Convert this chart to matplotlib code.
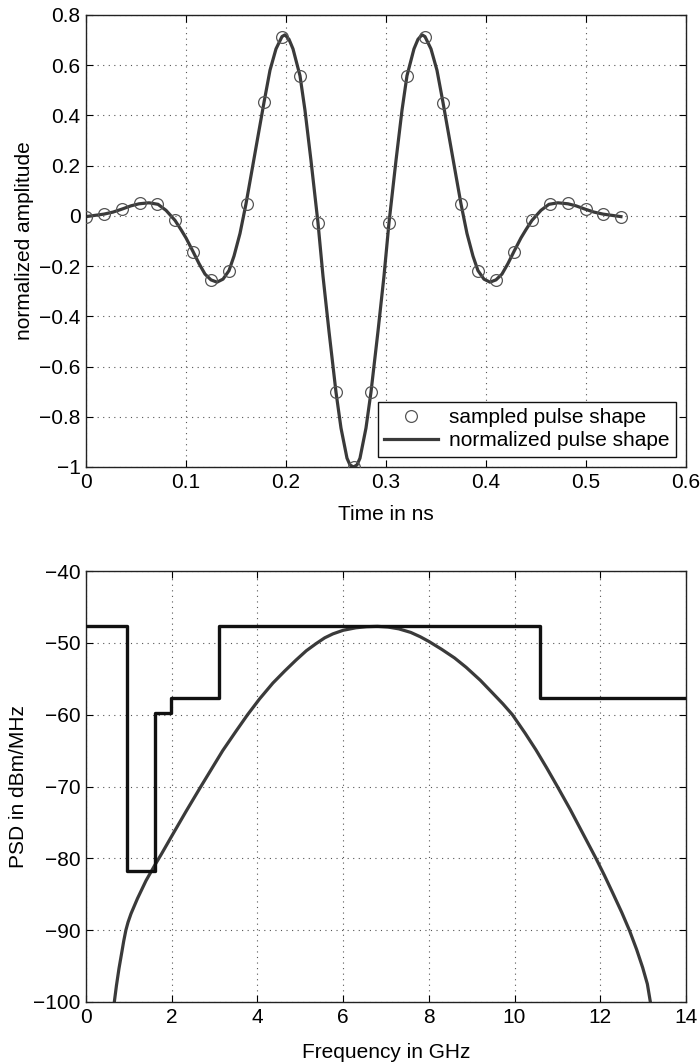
import numpy as np
import matplotlib
matplotlib.use("Agg")
import matplotlib.pyplot as plt
from matplotlib.ticker import FuncFormatter

# ---------------- data ----------------
# sampled pulse (circles)
t_samp = [0, 0.018, 0.036, 0.054, 0.071, 0.089, 0.107, 0.125, 0.143, 0.161,
          0.178, 0.196, 0.214, 0.232, 0.250, 0.268, 0.285, 0.303, 0.321, 0.339,
          0.357, 0.375, 0.392, 0.410, 0.428, 0.446, 0.464, 0.482, 0.500, 0.517,
          0.535]
a_samp = [-0.003, 0.007, 0.027, 0.050, 0.048, -0.017, -0.142, -0.255, -0.218, 0.049,
          0.453, 0.712, 0.558, -0.028, -0.702, -1.000, -0.700, -0.028, 0.558, 0.714,
          0.451, 0.049, -0.218, -0.255, -0.142, -0.017, 0.048, 0.050, 0.027, 0.007,
          -0.003]

# normalized pulse shape (solid line)
t_pulse = [0, 0.009, 0.018, 0.027, 0.036, 0.045, 0.053, 0.063, 0.072, 0.080,
           0.089, 0.095, 0.100, 0.107, 0.113, 0.119, 0.125, 0.131, 0.137, 0.143,
           0.148, 0.154, 0.160, 0.165, 0.171, 0.178, 0.184, 0.190, 0.196, 0.199,
           0.203, 0.207, 0.214, 0.219, 0.225, 0.232, 0.237, 0.243, 0.250, 0.255,
           0.261, 0.264, 0.2675, 0.271,
           0.274, 0.280, 0.285, 0.292, 0.298, 0.303, 0.310, 0.316, 0.321, 0.328,
           0.332, 0.336, 0.339, 0.345, 0.351, 0.357, 0.364, 0.370, 0.375, 0.381,
           0.387, 0.392, 0.398, 0.404, 0.410, 0.416, 0.422, 0.428, 0.435, 0.440,
           0.446, 0.455, 0.463, 0.472, 0.482, 0.490, 0.499, 0.508, 0.517, 0.526,
           0.535]
a_pulse = [-0.003, 0.002, 0.007, 0.015, 0.027, 0.040, 0.048, 0.052, 0.046, 0.022,
           -0.018, -0.055, -0.088, -0.142, -0.190, -0.232, -0.255, -0.264, -0.252, -0.218,
           -0.160, -0.070, 0.048, 0.160, 0.295, 0.452, 0.580, 0.665, 0.714, 0.721,
           0.703, 0.665, 0.558, 0.420, 0.220, -0.028, -0.240, -0.460, -0.702, -0.845,
           -0.965, -0.992, -1.000, -0.992,
           -0.965, -0.845, -0.702, -0.460, -0.240, -0.028, 0.220, 0.420, 0.558, 0.665,
           0.703, 0.721, 0.714, 0.665, 0.580, 0.452, 0.295, 0.160, 0.048, -0.070,
           -0.160, -0.218, -0.252, -0.264, -0.255, -0.232, -0.190, -0.142, -0.088, -0.055,
           -0.018, 0.022, 0.046, 0.052, 0.048, 0.040, 0.027, 0.015, 0.007, 0.002,
           -0.003]

# spectral mask (step line)
f_mask = [0, 0.96, 0.96, 1.61, 1.61, 1.99, 1.99, 3.1, 3.1, 10.6, 10.6, 14]
p_mask = [-47.7, -47.7, -81.7, -81.7, -59.7, -59.7, -57.7, -57.7, -47.7, -47.7, -57.7, -57.7]

# PSD of the pulse
f_psd = [0.66, 0.71, 0.77, 0.84, 0.88, 0.93, 0.98, 1.05, 1.20, 1.40, 1.61, 1.76,
         2.0, 2.34, 2.68, 3.19, 3.5, 3.77, 4.05, 4.36, 4.64, 4.9, 5.14, 5.37,
         5.57, 5.76, 6.0, 6.3, 6.55, 6.8, 7.05, 7.3, 7.58, 7.8, 8.0, 8.3,
         8.6, 8.87, 9.2, 9.49, 9.73, 9.95, 10.25, 10.5, 10.75, 11.0, 11.3, 11.6,
         11.9, 12.1, 12.29, 12.5, 12.68, 12.85, 12.99, 13.1, 13.17]
p_psd = [-100.0, -97.7, -95.3, -92.9, -91.5, -90.0, -88.9, -87.7, -85.6, -83.1, -80.9, -79.4,
         -76.9, -73.4, -70.0, -65.0, -62.3, -60.0, -57.8, -55.6, -53.9, -52.4, -51.1, -50.1,
         -49.3, -48.75, -48.25, -47.9, -47.75, -47.7, -47.8, -48.05, -48.55, -49.15, -49.8, -50.9,
         -52.1, -53.4, -55.2, -57.0, -58.5, -60.0, -62.6, -64.9, -67.4, -70.0, -73.2, -76.6,
         -80.0, -82.4, -84.8, -87.5, -90.0, -92.7, -95.2, -97.5, -100.0]

# ---------------- plotting ----------------
plt.rcParams['font.family'] = ['Liberation Sans', 'DejaVu Sans']
FS = 15
plt.rcParams['font.size'] = FS

fig = plt.figure(figsize=(7, 10.62), dpi=100)
ax1 = fig.add_axes([0.1229, 0.5603, 0.857, 0.4256])
ax2 = fig.add_axes([0.1229, 0.0565, 0.857, 0.4058])

fmt = FuncFormatter(lambda v, p: ('%g' % (round(v, 6) + 0.0)).replace('-', '\u2212'))


def style(ax):
    ax.grid(True, linestyle=(0, (1, 4)), color='#555555', linewidth=0.8)
    ax.tick_params(direction='in', top=True, right=True, length=5, width=0.8,
                   labelsize=FS, pad=4)
    for s in ax.spines.values():
        s.set_linewidth(1.0)
        s.set_color('#222222')
    ax.xaxis.set_major_formatter(fmt)
    ax.yaxis.set_major_formatter(fmt)


ax1.plot(t_samp, a_samp, linestyle='none', marker='o', markersize=8.5,
         markerfacecolor='none', markeredgecolor='#555555', markeredgewidth=0.9,
         label='sampled pulse shape', zorder=3)
ax1.plot(t_pulse, a_pulse, color='#3a3a3a', linewidth=2.3,
         label='normalized pulse shape', zorder=2)
ax1.set_xlim(0, 0.6)
ax1.set_ylim(-1, 0.8)
ax1.set_xticks(np.arange(0, 0.61, 0.1))
ax1.set_yticks(np.arange(-1, 0.81, 0.2))
ax1.set_xlabel('Time in ns', fontsize=FS, labelpad=10)
ax1.set_ylabel('normalized amplitude', fontsize=FS, labelpad=4)
style(ax1)
leg = ax1.legend(loc='lower right', fontsize=FS, fancybox=False, framealpha=1,
                 edgecolor='#111111', borderpad=0.3, handlelength=2.6,
                 handletextpad=0.5, labelspacing=0.2, borderaxespad=0.5)
leg.get_frame().set_linewidth(1.0)

ax2.plot(f_mask, p_mask, color='#111111', linewidth=2.4, zorder=3)
ax2.plot(f_psd, p_psd, color='#3a3a3a', linewidth=2.3, zorder=2)
ax2.set_xlim(0, 14)
ax2.set_ylim(-100, -40)
ax2.set_xticks(np.arange(0, 15, 2))
ax2.set_yticks(np.arange(-100, -39, 10))
ax2.set_xlabel('Frequency in GHz', fontsize=FS, labelpad=12)
ax2.set_ylabel('PSD in dBm/MHz', fontsize=FS, labelpad=4)
style(ax2)

fig.savefig('out.png', dpi=100)
